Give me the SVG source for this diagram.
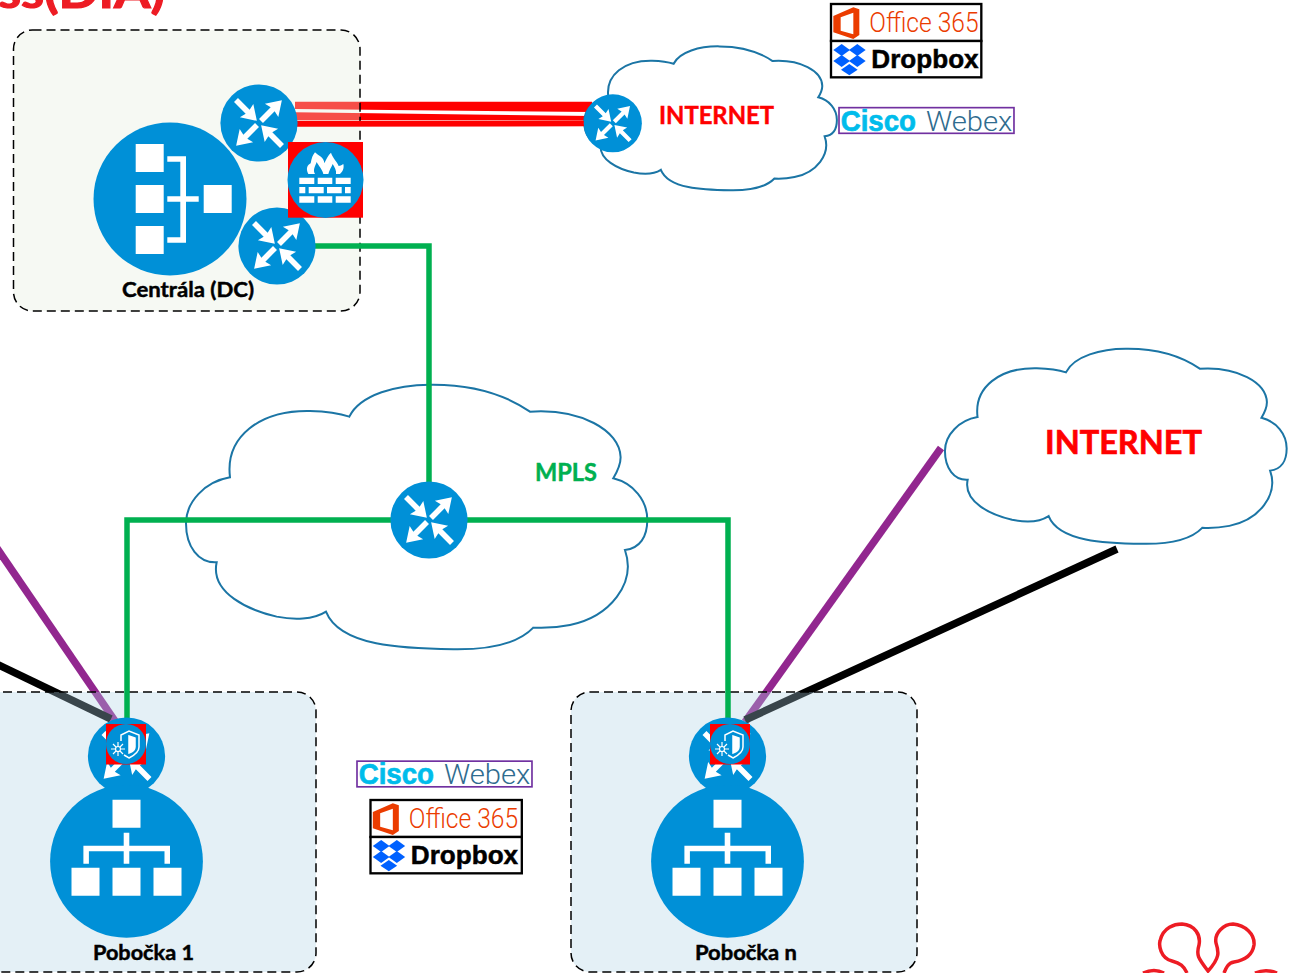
<svg xmlns="http://www.w3.org/2000/svg" width="1289" height="973" viewBox="0 0 1289 973">
<style>
.blue{fill:#0090d7}
.w{fill:#fff}
.cloud{fill:#fff;stroke:#1b75a5;stroke-width:2;vector-effect:non-scaling-stroke}
.box{stroke:#000;stroke-width:1.5;stroke-dasharray:9 5}
.dc{fill:#e3ecda;fill-opacity:.33}
.br{fill:#aed2e4;fill-opacity:.33}
.g{fill:none;stroke:#00b050;stroke-width:5.5}
.p{stroke:#92278f;stroke-width:7.5;fill:none}
.k{stroke:#000;stroke-width:7.5;fill:none}
.lbl{font-family:Lato,"Liberation Sans",sans-serif;font-weight:700;stroke-width:.45}
.nm{font-size:20px;fill:#000;stroke:#000}
.off{font-family:Roboto,"Liberation Sans",sans-serif;font-weight:300;font-size:84px;fill:#eb3c00}
.drop{font-family:"Liberation Sans",Arial,sans-serif;font-weight:700;font-size:80px;fill:#000;stroke:#000;stroke-width:1.5}
.cis{font-family:"Liberation Sans",Arial,sans-serif;font-weight:700;font-size:86px;fill:#00bceb;stroke:#00bceb;stroke-width:2}
.wbx{font-family:Roboto,"Liberation Sans",sans-serif;font-weight:300;font-size:84px;fill:#2f6c8f}
</style>
<defs>
<path id="cl" class="cloud" d="M180,322C165,200 270,120 420,123C460,124 500,127 538,140C570,75 680,42 790,44C900,44 1000,70 1080,125C1230,115 1350,180 1352,262C1352,285 1342,305 1330,325C1390,340 1432,390 1432,450C1432,500 1410,535 1365,540C1400,640 1320,740 1200,765C1160,773 1125,775 1090,773C1050,815 980,840 850,838C700,836 510,830 468,725C430,750 370,750 320,740C240,722 120,670 140,577C85,580 48,530 48,460C48,395 105,335 180,322Z"/>
<polygon id="ar" class="w" points="0,-2.8 16.5,-2.8 15,-9.5 29.5,0 15,9.5 16.5,2.8 0,2.8"/>
<g id="router">
<circle r="38.6" class="blue"/>
<use href="#ar" transform="translate(-23,-23) rotate(45)"/>
<use href="#ar" transform="translate(2,-2) rotate(-45)"/>
<use href="#ar" transform="translate(-2,2) rotate(135)"/>
<use href="#ar" transform="translate(23,23) rotate(225)"/>
</g>
<g id="branchnet">
<circle r="76.4" class="blue"/>
<path class="w" d="M-14,-61.5h28v28h-28zM-55,6.5h28v28h-28zM-14,6.5h28v28h-28zM27,6.5h28v28h-28zM-2.8,-28.5h5.6v13h40.7v18h-5.5v-12.5h-35.2v12.5h-5.6v-12.5h-34.8v12.5h-5.5v-18h40.3z"/>
</g>
<g id="shield">
<rect x="-20" y="-20" width="40" height="40.5" fill="#f00"/>
<circle r="20" class="blue"/>
<g fill="none" stroke="#fff" stroke-width="1.5">
<path d="M-5,-3V-9L3,-13L13,-9V3C13,9 7,12 3,14L-2,11"/>
<path d="M3,-8L9,-6V3C9,6 6,8 3,9Z" fill="#fff"/>
<g stroke-width="1.2"><path d="M-15,5H-1M-8,-2V12M-13,0L-3,10M-13,10L-3,0"/><circle cx="-8" cy="5" r="2.5" fill="#0090d7"/></g>
</g>
</g>
<path id="officeicon" fill="#eb3c00" fill-rule="evenodd" d="M40,48L100,22L118,28V105L100,117L40,97ZM62,52V92L100,103V38Z"/>
<g id="dropicon" fill="#0061ff">
<path d="M65,132L90,150L65,168L40,150Z"/><path d="M112,132L137,150L112,168L87,150Z"/><path d="M65,165L90,183L65,201L40,183Z"/><path d="M112,165L137,183L112,201L87,183Z"/><path d="M88,192L113,209L88,226L63,209Z"/>
</g>
</defs>
<rect width="1289" height="973" fill="#fff"/>

<g id="title"><text class="lbl" x="-2" y="8" font-size="46" fill="#ed1c24" stroke="#ed1c24" style="stroke-width:1.2" textLength="167" lengthAdjust="spacingAndGlyphs">ss(DIA)</text></g>

<g id="under-connectors">
<polygon points="295,101.7 592,101.7 592,112 295,109" fill="#f00"/>
<polygon points="295,112.2 592,116 592,120.7 295,120" fill="#f00"/>
<path class="p" d="M941,448L745,722"/>
<path class="k" d="M1117,549L745,720"/>
<path class="p" d="M-10,538L115,721"/>
<path class="k" d="M-20,656L111,719"/>
</g>

<g id="site-dc"><rect class="box dc" x="13.5" y="30" width="346.5" height="281" rx="19"/></g>
<g id="site-b1"><rect class="box br" x="-30" y="692" width="346" height="280" rx="19"/></g>
<g id="site-bn"><rect class="box br" x="571" y="692" width="346" height="280" rx="19"/></g>

<g id="cloud-internet1"><use href="#cl" transform="translate(575.4,38.4) scale(.1826,.1813)"/><text class="lbl" x="659" y="124.3" font-size="24" fill="#f00" stroke="#f00" textLength="115" lengthAdjust="spacingAndGlyphs">INTERNET</text></g>
<g id="cloud-mpls"><use href="#cl" transform="translate(170,370) scale(.3333)"/><text class="lbl" x="535" y="480.7" font-size="24" fill="#00b050" stroke="#00b050" textLength="62" lengthAdjust="spacingAndGlyphs">MPLS</text></g>
<g id="cloud-internet2"><use href="#cl" transform="translate(933.1,338) scale(.2469,.2456)"/><text class="lbl" x="1045" y="454.3" font-size="33" fill="#f00" stroke="#f00" style="stroke-width:.7" textLength="157" lengthAdjust="spacingAndGlyphs">INTERNET</text></g>

<g id="connectors">
<polygon points="295,120.7 592,121 592,126.3 295,126.7" fill="#f00"/>
<path class="g" d="M300,246H429V520"/>
<path class="g" d="M127,725V520H728V725"/>
</g>

<g id="dc-net"><circle cx="170" cy="199" r="76.5" class="blue"/>
<path class="w" d="M135.7,144h28v28h-28zM135.7,185h28v28h-28zM135.7,226h28v28h-28zM203.7,185h28v28h-28zM167.3,156.3H186V196.3H198.7V201.7H186V242.7H167.3V237.3H180.3V201.7H167.3V196.3H180.3V161.7H167.3Z"/></g>
<g id="router-dc1"><use href="#router" transform="translate(259,123)"/></g>
<g id="router-dc2"><use href="#router" transform="translate(277,246)"/></g>
<g id="firewall"><rect x="288" y="142" width="75" height="75.7" fill="#f00"/><circle cx="325.5" cy="180" r="38" class="blue"/>
<path class="w" d="M299.3,177.7h15v6.3h-15zM317.7,177.7h14.6v6.3h-14.6zM335.7,177.7h15v6.3h-15zM299.3,187h6v6.3h-6zM308.7,187h15v6.3h-15zM327,187h14.7v6.3h-14.7zM345,187h5.7v6.3h-5.7zM299.3,196.3h15v6.4h-15zM317.7,196.3h14.6v6.4h-14.6zM335.7,196.3h15v6.4h-15z"/>
<g transform="translate(325.5,180) scale(.3333) translate(-376.5,-330)"><path class="w" fill-rule="evenodd" d="M325,312C316,295 323,285 332,280C335,265 338,255 345,247C356,258 372,262 373,280C378,268 385,255 393,248C398,265 412,275 416,288C420,288 425,286 430,282C433,295 428,305 420,312ZM345,312C338,300 345,290 350,276C356,288 366,296 370,312ZM385,312C388,300 395,290 398,282C404,292 410,302 408,312Z"/></g>
</g>
<g id="router-internet1"><use href="#router" transform="translate(612.8,123.3) scale(.753)"/></g>
<g id="router-mpls"><use href="#router" transform="translate(429,520)"/></g>

<g id="b1-router"><use href="#router" transform="translate(126.5,756)"/><use href="#shield" transform="translate(126,744)"/></g>
<g id="b1-net"><use href="#branchnet" transform="translate(126.5,861.3)"/><text class="lbl nm" x="93" y="960" textLength="101" lengthAdjust="spacingAndGlyphs">Pobočka 1</text></g>
<g id="bn-router"><use href="#router" transform="translate(727.5,756)"/><use href="#shield" transform="translate(730,744)"/></g>
<g id="bn-net"><use href="#branchnet" transform="translate(727.5,861.3)"/><text class="lbl nm" x="695" y="960" textLength="102" lengthAdjust="spacingAndGlyphs">Pobočka n</text></g>
<g id="dc-label"><text class="lbl nm" x="122" y="297" textLength="132" lengthAdjust="spacingAndGlyphs">Centrála (DC)</text></g>

<g id="saas-top" transform="translate(820,0) scale(.3333)">
<rect x="33" y="12" width="451" height="111" fill="#fff" stroke="#000" stroke-width="7"/>
<rect x="33" y="123" width="451" height="109" fill="#fff" stroke="#000" stroke-width="7"/>
<use href="#officeicon"/><text class="off" x="148" y="95" textLength="328" lengthAdjust="spacingAndGlyphs">Office 365</text>
<use href="#dropicon"/><text class="drop" x="154" y="204" textLength="322" lengthAdjust="spacingAndGlyphs">Dropbox</text>
</g>
<g id="webex-top" transform="translate(820,0) scale(.3333)">
<rect x="57" y="323" width="525" height="77" fill="#fff" stroke="#7030a0" stroke-width="5"/>
<text class="cis" x="62" y="392" textLength="226" lengthAdjust="spacingAndGlyphs">Cisco</text>
<text class="wbx" x="318" y="392" textLength="259" lengthAdjust="spacingAndGlyphs">Webex</text>
</g>
<g id="saas-bottom" transform="translate(359.5,796) scale(.3333)">
<rect x="33" y="12" width="454" height="111" fill="#fff" stroke="#000" stroke-width="7"/>
<rect x="33" y="123" width="454" height="109" fill="#fff" stroke="#000" stroke-width="7"/>
<use href="#officeicon"/><text class="off" x="148" y="95" textLength="328" lengthAdjust="spacingAndGlyphs">Office 365</text>
<use href="#dropicon"/><text class="drop" x="154" y="204" textLength="322" lengthAdjust="spacingAndGlyphs">Dropbox</text>
</g>
<g id="webex-bottom" transform="translate(338,653.5) scale(.3333)">
<rect x="57" y="323" width="525" height="77" fill="#fff" stroke="#7030a0" stroke-width="5"/>
<text class="cis" x="62" y="392" textLength="226" lengthAdjust="spacingAndGlyphs">Cisco</text>
<text class="wbx" x="318" y="392" textLength="259" lengthAdjust="spacingAndGlyphs">Webex</text>
</g>

<g id="logo" fill="none" stroke="#ed1c24" stroke-width="3.5">
<path d="M1187,973C1184,966 1180,963 1172,961C1160,958 1159,945 1160,941C1163,927 1175,924 1182,924C1195,925 1201,935 1199,945C1196,955 1198,958 1208,971C1220,958 1219,952 1216,943C1214,933 1224,924 1233,924C1245,925 1255,934 1254,945C1252,958 1240,961 1234,962C1228,963 1226,968 1224,973"/>
<path d="M1143,973C1150,970 1158,970 1164,973M1255,973C1262,970 1270,970 1277,973"/>
</g>
</svg>
